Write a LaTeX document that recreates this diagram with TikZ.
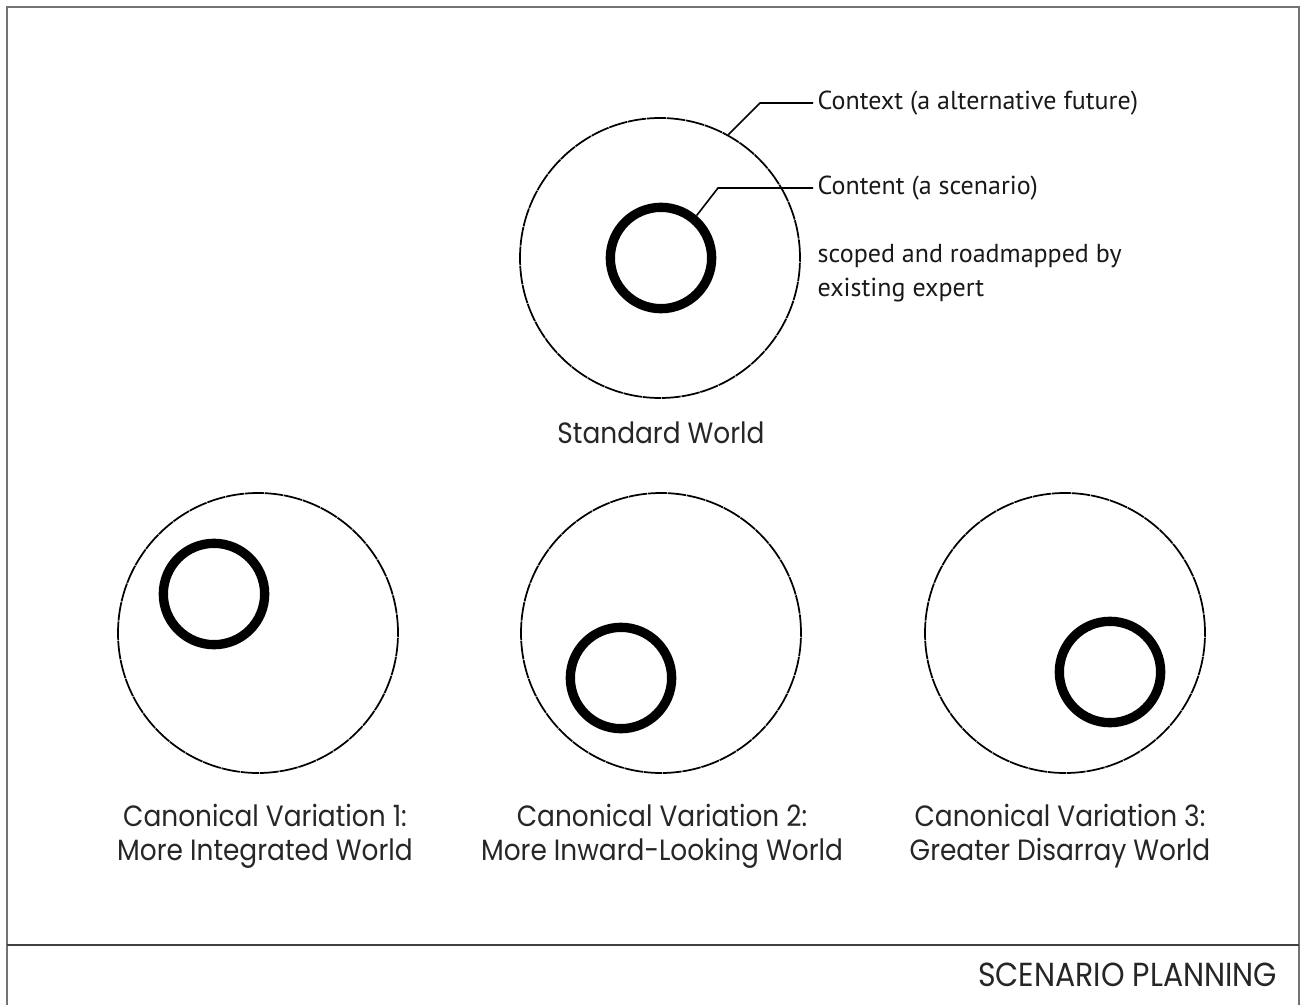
\documentclass[tikz,border=0pt]{standalone}
\usepackage{fontspec}
\setmainfont{PT Sans}
\newfontfamily\worldfont[FakeStretch=0.9]{Poppins}
\usetikzlibrary{positioning}

\begin{document}
\begin{tikzpicture}[x=0.75pt, y=-0.75pt,
    context/.style={draw, circle, line width=1.3pt, dash pattern=on 14pt off 0.6pt, minimum size=210pt, inner sep=0pt},
    content/.style={draw, circle, line width=7pt, minimum size=76pt, inner sep=0pt},
    worldname/.style={font=\worldfont\fontsize{22}{25.5}\selectfont, align=center, text=black!85},
    note/.style={font=\fontsize{19.5}{25}\selectfont, anchor=west, align=left, text=black!90}]

    \useasboundingbox (0,0) rectangle (1303,1005);
    \clip (0,0) rectangle (1303,1005);

    % frame
    \draw[color=gray!110, line width=2.2pt] (7,1020) -- (7,7) -- (1299,7) -- (1299,1020);
    \draw[color=black!75, line width=1.4pt] (7,945) -- (1299,945);
    \node[worldname, font=\worldfont\fontsize{25}{28}\selectfont, anchor=east] (title) at (1282,975) {SCENARIO PLANNING};

    % standard world
    \node[context] (std) at (660,258) {};
    \node[content] (stdin) at (661,258) {};
    \node[worldname] (stdname) at (661,433) {Standard World};

    \node[note] (ctxlbl) at (813,103) {Context (a alternative future)};
    \node[note] (cntlbl) at (813,188) {Content (a scenario)};
    \node[note] (scope) at (813,273) {scoped and roadmapped by\\existing expert};

    \coordinate (ctxbend) at (760,103);
    \coordinate (cntbend) at (718,188);
    \draw[line width=1.2pt] (std.61) -- (ctxbend) -- (ctxlbl.west);
    \draw[line width=1.2pt] (stdin.50) -- (cntbend) -- (cntlbl.west);

    % variation 1
    \node[context] (var1) at (258,633) {};
    \node[content] (var1in) at (214,594) {};
    \node[worldname] (var1name) at (265,836) {Canonical Variation 1:\\More Integrated World};

    % variation 2
    \node[context] (var2) at (661,633) {};
    \node[content] (var2in) at (621,678) {};
    \node[worldname] (var2name) at (662,836) {Canonical Variation 2:\\More Inward-Looking World};

    % variation 3
    \node[context] (var3) at (1065,633) {};
    \node[content] (var3in) at (1110,672) {};
    \node[worldname] (var3name) at (1060,836) {Canonical Variation 3:\\Greater Disarray World};

\end{tikzpicture}
\end{document}
